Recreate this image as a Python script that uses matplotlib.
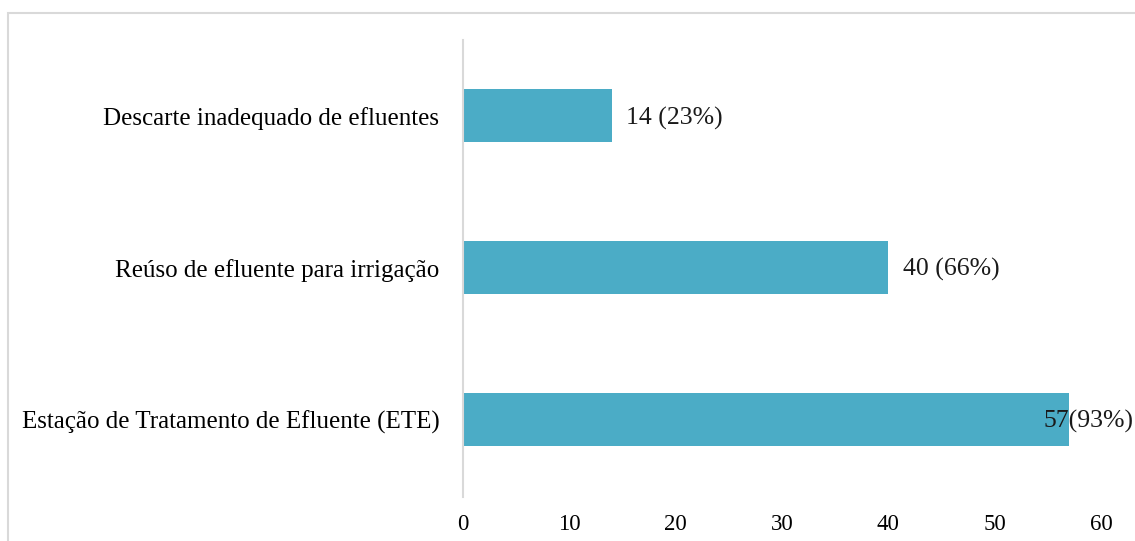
import matplotlib
matplotlib.use('Agg')
import matplotlib.pyplot as plt
from matplotlib.patches import Rectangle

# categories bottom to top
categories = ['Estação de Tratamento de Efluente (ETE)',
              'Reúso de efluente para irrigação',
              'Descarte inadequado de efluentes']
counts = [57, 40, 14]
labels = ['57(93%)', '40 (66%)', '14 (23%)']
label_shift = [-26, 15, 14]  # px offset of the value text from bar end

plt.rcParams['font.family'] = ['Liberation Serif', 'DejaVu Serif']

fig = plt.figure(figsize=(11.35, 5.41), dpi=100)
# outer frame of the chart area
fig.patches.append(Rectangle((8 / 1135, -0.1), 1.2, 1 - 13 / 541 + 0.1,
                             transform=fig.transFigure, fill=False,
                             edgecolor='#D9D9D9', linewidth=1.5))

ax = fig.add_axes([463 / 1135, 1 - 497 / 541, (1101 - 463) / 1135, 457 / 541])
pos = range(len(categories))
ax.barh(pos, counts, height=0.35, color='#4BACC6')

for i, (v, lab) in enumerate(zip(counts, labels)):
    ax.annotate(lab, xy=(v, i), xytext=(label_shift[i] * 0.72, -1.5),
                textcoords='offset points', ha='left', va='center',
                fontsize=18.5, color='#1a1a1a', annotation_clip=False)

ax.set_xlim(0, 60)
ax.set_ylim(-0.51, 2.5)
ax.set_xticks(range(0, 61, 10))
ax.set_yticks(list(pos))
ax.set_yticklabels(categories, fontsize=18)
ax.tick_params(axis='x', length=0, pad=12, labelsize=16.5)
ax.tick_params(axis='y', length=0, pad=17)
for s in ['top', 'right', 'bottom']:
    ax.spines[s].set_visible(False)
ax.spines['left'].set_color('#D9D9D9')
ax.spines['left'].set_linewidth(1.5)

fig.savefig('out.png', dpi=100)
